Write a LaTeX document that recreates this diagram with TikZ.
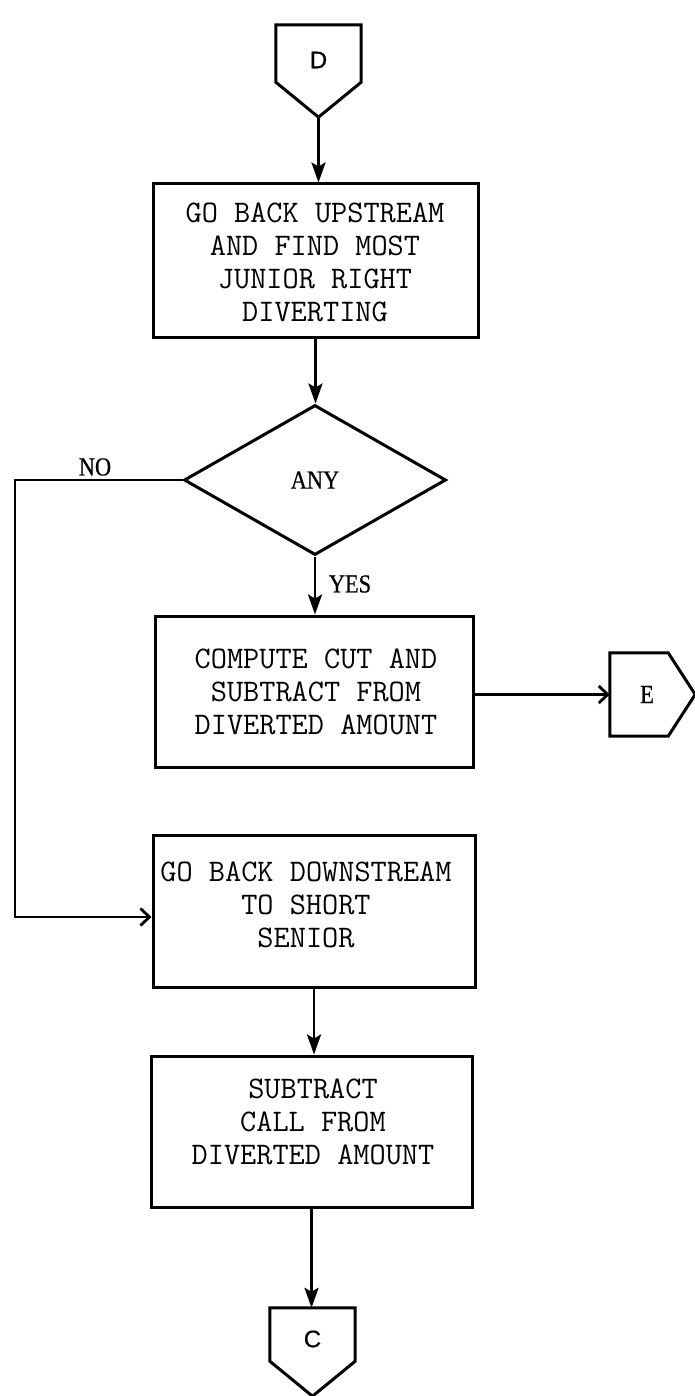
\documentclass[tikz,border=0pt]{standalone}
\usepackage{fontspec}
\usetikzlibrary{shapes.geometric,arrows.meta,calc}
\newfontfamily\serfont[FakeStretch=0.86,FakeBold=0.6]{Liberation Serif}
\newfontfamily\sanfont[FakeBold=0.6]{Liberation Sans}
\newcommand{\twfont}{\ttfamily\addfontfeature{FakeBold=0.8}}
\begin{document}
\begin{tikzpicture}[x=1pt,y=-1pt,
  outline/.style={draw, line width=3pt, line join=miter},
  boxnode/.style={draw, rectangle, line width=3pt, inner sep=0pt},
  boxtext/.style={font=\twfont\fontsize{31.4}{33}\selectfont, align=center, inner sep=0pt},
  decision/.style={draw, diamond, line width=3pt, minimum width=262pt, minimum height=150pt, inner sep=0pt, font=\serfont\fontsize{26}{30}\selectfont},
  connnode/.style={inner sep=0pt, minimum width=85pt},
  lbl/.style={inner sep=0pt, font=\serfont\fontsize{26}{30}\selectfont},
  varrow/.style={line width=2.8pt, -{Stealth[length=20pt,width=14pt,inset=4pt]}},
  harrow/.style={line width=2.8pt, -{Straight Barb[length=9pt,width=17pt]}}
]
\useasboundingbox (0,0) rectangle (695,1396);
\fill[white] (0,0) rectangle (695,1396);

% connector D
\node[connnode, minimum height=70pt, font=\sanfont\fontsize{24}{28}\selectfont] (D) at (318.5,60) {D};
\draw[outline] (D.north west) -- (D.north east) -- ([yshift=13pt]D.south east) -- ([yshift=-22pt]D.south) -- ([yshift=13pt]D.south west) -- cycle;
\coordinate (Dtip) at ([yshift=-22pt]D.south);

% box 1
\node[boxnode, minimum width=325pt, minimum height=153pt] (b1) at (315.5,260.5) {};
\node[boxtext] (t1) at (315,262) {GO BACK UPSTREAM\\AND FIND MOST\\JUNIOR RIGHT\\DIVERTING};

% decision
\node[decision] (dia) at (315,480) {ANY};

% box 2
\node[boxnode, minimum width=318pt, minimum height=151pt] (b2) at (314,691.5) {};
\node[boxtext] (t2) at (316,692) {COMPUTE CUT AND\\SUBTRACT FROM\\DIVERTED AMOUNT};

% connector E
\node[inner sep=0pt, minimum width=74pt, minimum height=83pt, font=\serfont\fontsize{26}{30}\selectfont] (E) at (647,694.5) {E};
\draw[outline] (E.north west) -- ([xshift=-16pt]E.north east) -- ([xshift=11pt]E.east) -- ([xshift=-16pt]E.south east) -- (E.south west) -- cycle;

% box 3
\node[boxnode, minimum width=322pt, minimum height=152pt] (b3) at (314,911) {};
\node[boxtext] (t3) at (306,905) {GO BACK DOWNSTREAM\\TO SHORT\\SENIOR};

% box 4
\node[boxnode, minimum width=321pt, minimum height=151pt] (b4) at (311.5,1131.5) {};
\node[boxtext] (t4) at (313,1122) {SUBTRACT\\CALL FROM\\DIVERTED AMOUNT};

% connector C
\node[connnode, minimum height=62pt, font=\sanfont\fontsize{24}{28}\selectfont] (C) at (312.5,1339) {C};
\draw[outline] (C.north west) -- (C.north east) -- ([yshift=9pt]C.south east) -- ([yshift=-26pt]C.south) -- ([yshift=9pt]C.south west) -- cycle;

% labels
\node[lbl] (no) at (95,467) {NO};
\node[lbl] (yes) at (350,584) {YES};

% connectors
\coordinate (nocorner) at (15,480);
\draw[varrow] (Dtip) -- (Dtip |- b1.north);
\draw[varrow] (b1.south) -- (b1.south |- dia.north);
\draw[varrow] (dia.south) -- (dia.south |- b2.north);
\draw[harrow] (E.west -| b2.east) -- (E.west);
\draw[harrow] (dia.west) -- (nocorner) |- ([yshift=-6pt]b3.west);
\draw[varrow] (b3.south) -- (b3.south |- b4.north);
\draw[varrow] (b4.south) -- (b4.south |- C.north);
\end{tikzpicture}
\end{document}
